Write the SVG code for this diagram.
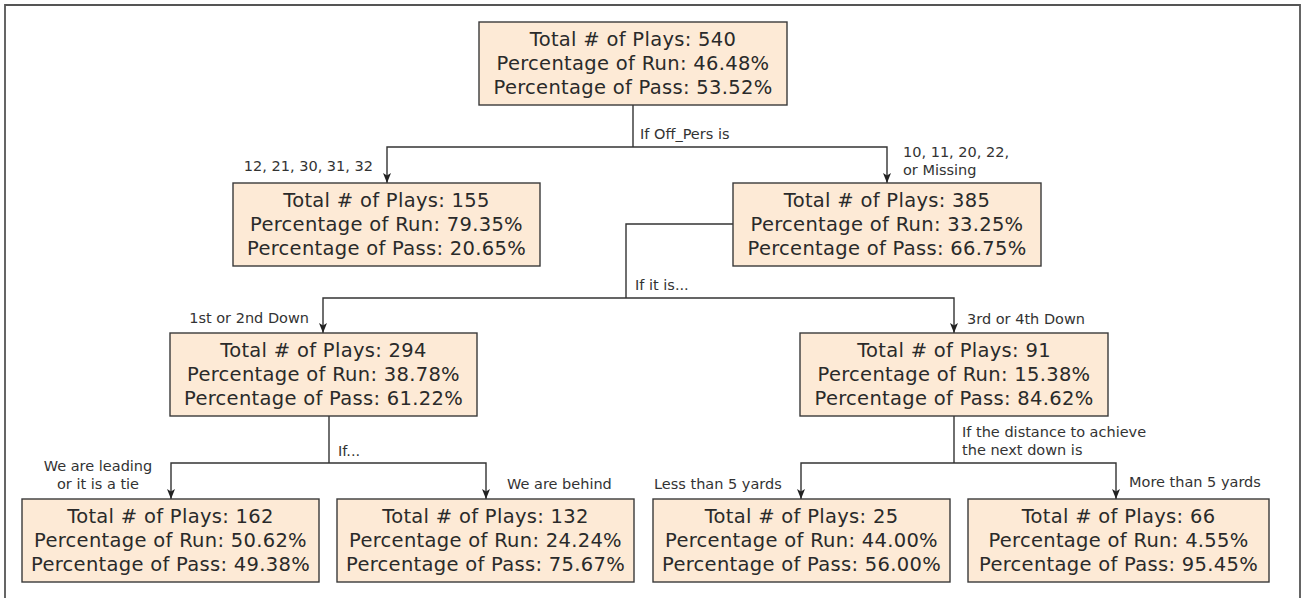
<svg xmlns="http://www.w3.org/2000/svg" width="1306" height="598" viewBox="0 0 1306 598">
<style>
.box{fill:#FDEAD6;stroke:#3a3a3a;stroke-width:1.4}
.bt{font-family:"DejaVu Sans",sans-serif;font-size:19.5px;letter-spacing:0.3px;fill:#2a2a2a;text-anchor:middle}
.lb{font-family:"DejaVu Sans",sans-serif;font-size:14.5px;fill:#333}
.ln{fill:none;stroke:#333;stroke-width:1.4}
.frame{fill:none;stroke:#555;stroke-width:1.8}
</style>
<defs>
<marker id="arr" viewBox="0 0 10 8" refX="10" refY="4" markerWidth="10" markerHeight="8" markerUnits="userSpaceOnUse" orient="auto">
<path d="M0,0 L10,4 L0,8 L2.5,4 z" fill="#222"/>
</marker>
</defs>
<path class="frame" d="M5,598 V5 H1300 V598"/>
<g id="connectors">
<path class="ln" d="M633,105 V147"/>
<path class="ln" d="M633,147 H387 V183" marker-end="url(#arr)"/>
<path class="ln" d="M633,147 H887 V183" marker-end="url(#arr)"/>
<path class="ln" d="M733,224 H626 V298"/>
<path class="ln" d="M626,298 H323 V333" marker-end="url(#arr)"/>
<path class="ln" d="M626,298 H954 V333" marker-end="url(#arr)"/>
<path class="ln" d="M329,416 V463"/>
<path class="ln" d="M329,463 H171 V499" marker-end="url(#arr)"/>
<path class="ln" d="M329,463 H486 V499" marker-end="url(#arr)"/>
<path class="ln" d="M954,416 V463"/>
<path class="ln" d="M954,463 H801 V499" marker-end="url(#arr)"/>
<path class="ln" d="M954,463 H1116 V499" marker-end="url(#arr)"/>
<text class="lb" x="640" y="139">If Off_Pers is</text>
<text class="lb" x="373" y="171" text-anchor="end">12, 21, 30, 31, 32</text>
<text class="lb" x="903" y="157">10, 11, 20, 22,</text>
<text class="lb" x="903" y="175">or Missing</text>
<text class="lb" x="635" y="290">If it is...</text>
<text class="lb" x="309" y="323" text-anchor="end">1st or 2nd Down</text>
<text class="lb" x="967" y="324">3rd or 4th Down</text>
<text class="lb" x="338" y="456">If...</text>
<text class="lb" x="98" y="471" text-anchor="middle">We are leading</text>
<text class="lb" x="98" y="489" text-anchor="middle">or it is a tie</text>
<text class="lb" x="507" y="489">We are behind</text>
<text class="lb" x="962" y="437">If the distance to achieve</text>
<text class="lb" x="962" y="455">the next down is</text>
<text class="lb" x="654" y="489">Less than 5 yards</text>
<text class="lb" x="1129" y="487">More than 5 yards</text>
</g>
<g id="n540">
<rect class="box" x="479" y="22" width="308" height="83"/>
<text class="bt" x="633" y="45.5">Total # of Plays: 540</text>
<text class="bt" x="633" y="69.5">Percentage of Run: 46.48%</text>
<text class="bt" x="633" y="93.5">Percentage of Pass: 53.52%</text>
</g>
<g id="n155">
<rect class="box" x="233" y="183" width="307" height="83"/>
<text class="bt" x="386.5" y="206.5">Total # of Plays: 155</text>
<text class="bt" x="386.5" y="230.5">Percentage of Run: 79.35%</text>
<text class="bt" x="386.5" y="254.5">Percentage of Pass: 20.65%</text>
</g>
<g id="n385">
<rect class="box" x="733" y="183" width="308" height="83"/>
<text class="bt" x="887" y="206.5">Total # of Plays: 385</text>
<text class="bt" x="887" y="230.5">Percentage of Run: 33.25%</text>
<text class="bt" x="887" y="254.5">Percentage of Pass: 66.75%</text>
</g>
<g id="n294">
<rect class="box" x="170" y="333" width="307" height="83"/>
<text class="bt" x="323.5" y="356.5">Total # of Plays: 294</text>
<text class="bt" x="323.5" y="380.5">Percentage of Run: 38.78%</text>
<text class="bt" x="323.5" y="404.5">Percentage of Pass: 61.22%</text>
</g>
<g id="n91">
<rect class="box" x="800" y="333" width="308" height="83"/>
<text class="bt" x="954" y="356.5">Total # of Plays: 91</text>
<text class="bt" x="954" y="380.5">Percentage of Run: 15.38%</text>
<text class="bt" x="954" y="404.5">Percentage of Pass: 84.62%</text>
</g>
<g id="n162">
<rect class="box" x="22" y="499" width="297" height="83"/>
<text class="bt" x="170.5" y="522.5">Total # of Plays: 162</text>
<text class="bt" x="170.5" y="546.5">Percentage of Run: 50.62%</text>
<text class="bt" x="170.5" y="570.5">Percentage of Pass: 49.38%</text>
</g>
<g id="n132">
<rect class="box" x="337" y="499" width="297" height="83"/>
<text class="bt" x="485.5" y="522.5">Total # of Plays: 132</text>
<text class="bt" x="485.5" y="546.5">Percentage of Run: 24.24%</text>
<text class="bt" x="485.5" y="570.5">Percentage of Pass: 75.67%</text>
</g>
<g id="n25">
<rect class="box" x="653" y="499" width="297" height="83"/>
<text class="bt" x="801.5" y="522.5">Total # of Plays: 25</text>
<text class="bt" x="801.5" y="546.5">Percentage of Run: 44.00%</text>
<text class="bt" x="801.5" y="570.5">Percentage of Pass: 56.00%</text>
</g>
<g id="n66">
<rect class="box" x="968" y="499" width="301" height="83"/>
<text class="bt" x="1118.5" y="522.5">Total # of Plays: 66</text>
<text class="bt" x="1118.5" y="546.5">Percentage of Run: 4.55%</text>
<text class="bt" x="1118.5" y="570.5">Percentage of Pass: 95.45%</text>
</g>
</svg>
